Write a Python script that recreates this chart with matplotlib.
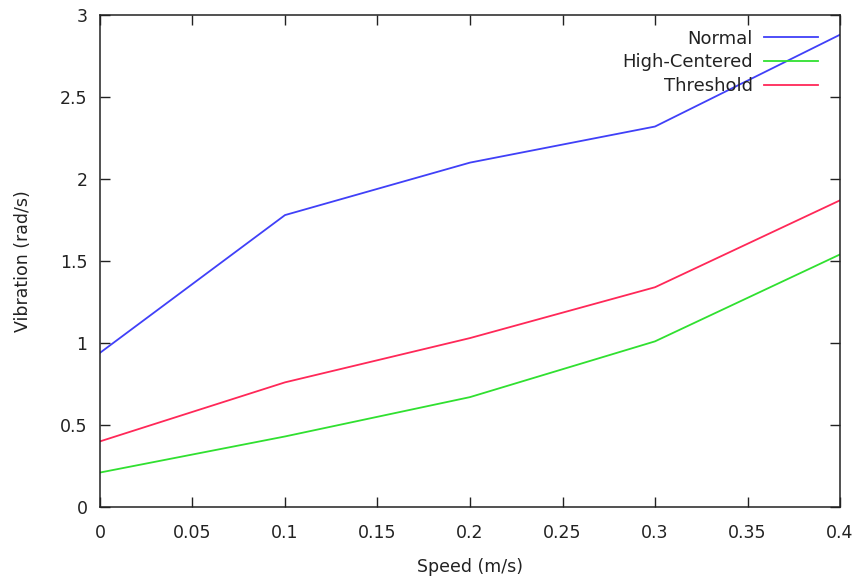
import matplotlib
matplotlib.use('Agg')
from matplotlib import pyplot as plt

plt.rcParams['font.family'] = ['DejaVu Sans']
plt.rcParams['font.size'] = 12.5

speed = [0.0, 0.1, 0.2, 0.3, 0.4]
normal = [0.94, 1.78, 2.10, 2.32, 2.88]
high_centered = [0.21, 0.43, 0.67, 1.01, 1.54]
threshold = [0.40, 0.76, 1.03, 1.34, 1.87]

x_ticks = [0, 0.05, 0.1, 0.15, 0.2, 0.25, 0.3, 0.35, 0.4]
x_ticklabels = ['0', '0.05', '0.1', '0.15', '0.2', '0.25', '0.3', '0.35', '0.4']
y_ticks = [0, 0.5, 1, 1.5, 2, 2.5, 3]
y_ticklabels = ['0', '0.5', '1', '1.5', '2', '2.5', '3']


def main():
    fig = plt.figure(figsize=(8.59, 5.8), dpi=100)
    ax = fig.add_axes([0.1164, 0.1259, 0.8615, 0.8482])

    ax.plot(speed, normal, color='#4040f8', lw=1.3, label='Normal')
    ax.plot(speed, high_centered, color='#30e030', lw=1.3, label='High-Centered')
    ax.plot(speed, threshold, color='#ff2858', lw=1.3, label='Threshold')

    ax.set_xlim(0, 0.4)
    ax.set_ylim(0, 3)
    ax.set_xticks(x_ticks)
    ax.set_xticklabels(x_ticklabels)
    ax.set_yticks(y_ticks)
    ax.set_yticklabels(y_ticklabels)
    ax.tick_params(direction='in', length=7, width=1, top=True, right=True,
                   colors='#222222', labelcolor='#222222')
    ax.tick_params(axis='x', pad=12)
    ax.tick_params(axis='y', pad=9)
    for s in ax.spines.values():
        s.set_color('#222222')
        s.set_linewidth(1.1)

    ax.set_xlabel('Speed (m/s)', color='#222222', labelpad=12)
    ax.set_ylabel('Vibration (rad/s)', color='#222222', labelpad=20)

    leg = ax.legend(loc='upper right', frameon=False, markerfirst=False,
                    fontsize=13, handlelength=3.0, handletextpad=0.65,
                    labelspacing=0.32, borderaxespad=0.3,
                    bbox_to_anchor=(0.988, 0.996))
    for t in leg.get_texts():
        t.set_color('#222222')

    plt.savefig('out.png', dpi=100)


if __name__ == '__main__':
    main()
